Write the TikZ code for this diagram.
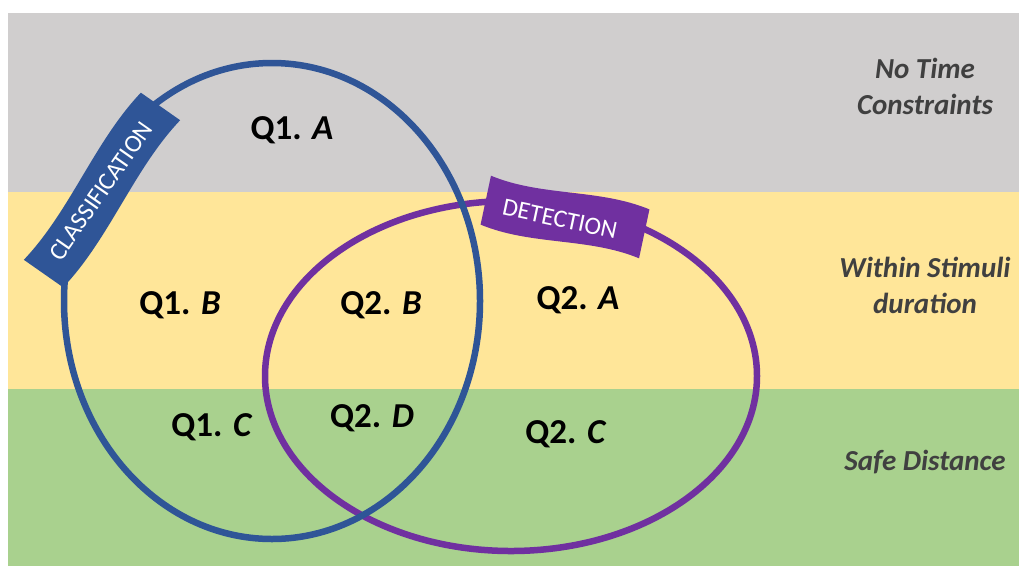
\documentclass[tikz,border=0pt]{standalone}
\usepackage{fontspec}
\setmainfont{Carlito}
\definecolor{bandgray}{HTML}{D0CECE}
\definecolor{bandyellow}{HTML}{FFE699}
\definecolor{bandgreen}{HTML}{A9D18E}
\definecolor{vennblue}{HTML}{2F5597}
\definecolor{vennpurple}{HTML}{7030A0}
\definecolor{sidetext}{HTML}{404040}
\tikzset{
  qlabel/.style={font=\fontsize{35}{38}\selectfont\bfseries, text=black, inner sep=0pt},
  sidelabel/.style={font=\fontsize{29}{36}\selectfont\bfseries\itshape, text=sidetext, align=center, inner sep=0pt},
  bannertext/.style={font=\fontsize{25}{27}\selectfont, text=white, inner sep=0pt},
  vennline/.style={line width=6.5pt},
}
\begin{document}
\begin{tikzpicture}[x=1pt,y=-1pt]
\useasboundingbox (0,0) rectangle (1019,566);
\fill[white] (0,0) rectangle (1019,566);
\fill[bandgray] (8,13) rectangle (1019,192);
\fill[bandyellow] (8,192) rectangle (1019,389);
\fill[bandgreen] (8,389) rectangle (1019,566);

\draw[vennline, vennpurple] (511,376) ellipse [x radius=246pt, y radius=175pt];
\draw[vennline, vennblue] (272,301) ellipse [x radius=208pt, y radius=238pt];

% classification banner
\begin{scope}[shift={(102,190)}, rotate=55]
\fill[vennblue] (-102pt,-24pt) .. controls (-35pt,-34pt) and (35pt,-14pt) .. (102pt,-24pt)
  -- (102pt,24pt) .. controls (35pt,34pt) and (-35pt,14pt) .. (-102pt,24pt) -- cycle;
\end{scope}
\node[bannertext, rotate=55] (cls) at (101,191) {CLASSIFICATION};

% detection banner
\begin{scope}[shift={(565,217)}, rotate=-12]
\fill[vennpurple] (-81pt,-25pt) .. controls (-27pt,-35pt) and (27pt,-15pt) .. (81pt,-25pt)
  -- (81pt,25pt) .. controls (27pt,35pt) and (-27pt,15pt) .. (-81pt,25pt) -- cycle;
\end{scope}
\node[bannertext, rotate=-12] (det) at (560,219) {DETECTION};

% region labels
\node[qlabel] (q1a) at (292,130) {Q1. \textit{A}};
\node[qlabel] (q1b) at (180,305) {Q1. \textit{B}};
\node[qlabel] (q2b) at (381,305) {Q2. \textit{B}};
\node[qlabel] (q2a) at (578,300) {Q2. \textit{A}};
\node[qlabel] (q1c) at (212,427) {Q1. \textit{C}};
\node[qlabel] (q2d) at (372,418) {Q2. \textit{D}};
\node[qlabel] (q2c) at (566,434) {Q2. \textit{C}};

% side labels
\node[sidelabel] (s1) at (925,86) {No Time\\Constraints};
\node[sidelabel] (s2) at (925,285) {Within Stimuli\\duration};
\node[sidelabel] (s3) at (925,462) {Safe Distance};
\end{tikzpicture}
\end{document}
